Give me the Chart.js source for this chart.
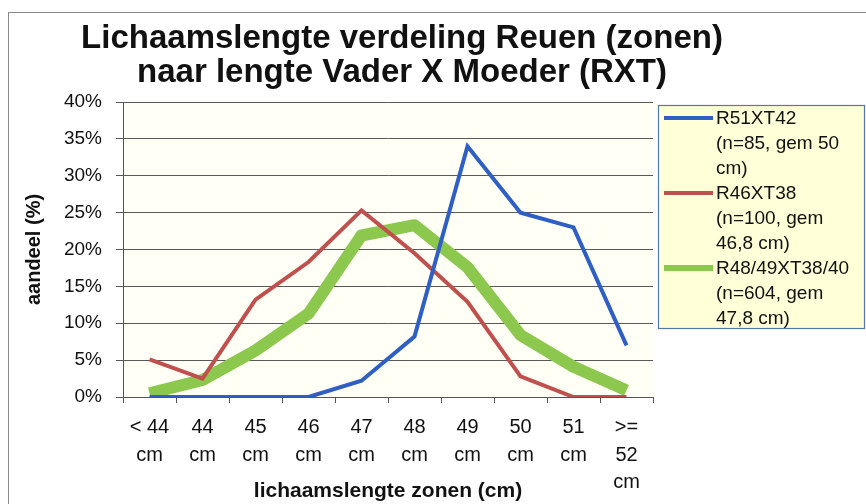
<!DOCTYPE html>
<html>
<head>
<meta charset="utf-8">
<script src="https://cdn.jsdelivr.net/npm/chart.js@4"></script>
<style>
  html, body { margin: 0; padding: 0; background: #fff; }
  #wrap { width: 866px; height: 504px; position: relative; }
</style>
</head>
<body>
<div id="wrap"><canvas id="chart"></canvas></div>
<script>
const titleLines = ['Lichaamslengte verdeling Reuen (zonen)', 'naar lengte Vader X Moeder (RXT)']
const categories = [
  ['< 44', 'cm'], ['44', 'cm'], ['45', 'cm'], ['46', 'cm'], ['47', 'cm'],
  ['48', 'cm'], ['49', 'cm'], ['50', 'cm'], ['51', 'cm'], ['>=', '52', 'cm']
]
const blueLabel = ['R51XT42', '(n=85, gem 50', 'cm)']
const redLabel = ['R46XT38', '(n=100, gem', '46,8 cm)']
const greenLabel = ['R48/49XT38/40', '(n=604, gem', '47,8 cm)']
const blueValues = [0, 0, 0, 0, 2.2, 8.2, 34, 25, 23, 7]
const redValues = [5.1, 2.5, 13.2, 18.3, 25.3, 19.5, 12.9, 2.8, 0, 0]
const greenValues = [0.5, 2.3, 6.3, 11.3, 21.9, 23.3, 17.6, 8.4, 4.1, 0.9]
const yTicks = [0, 5, 10, 15, 20, 25, 30, 35, 40]

const FONT = "'Liberation Sans', Arial, sans-serif"

// background, frame, title and the wrapped legend
const decor = {
  id: 'decor',
  beforeDraw(chart) {
    const { ctx, chartArea: a } = chart
    ctx.save()
    ctx.fillStyle = '#fffff6'
    ctx.fillRect(a.left, a.top, a.right - a.left, a.bottom - a.top)
    ctx.strokeStyle = '#8a8a8a'
    ctx.lineWidth = 1
    ctx.strokeRect(8.5, 12.5, 900, 600)
    ctx.restore()
  },
  afterDraw(chart) {
    const { ctx } = chart
    ctx.save()
    ctx.fillStyle = '#111'
    ctx.font = 'bold 33px ' + FONT
    ctx.textAlign = 'center'
    ctx.textBaseline = 'alphabetic'
    ctx.fillText(titleLines[0], 402, 48)
    ctx.fillText(titleLines[1], 402, 82)

    // legend box
    ctx.fillStyle = '#ffffd8'
    ctx.fillRect(658, 105, 206, 223)
    ctx.strokeStyle = '#5577aa'
    ctx.lineWidth = 1.2
    ctx.strokeRect(658.5, 105.5, 206, 223)
    ctx.font = '19px ' + FONT
    ctx.textAlign = 'left'
    ctx.textBaseline = 'middle'
    let y = 118
    chart.data.datasets.forEach(ds => {
      ctx.strokeStyle = ds.borderColor
      ctx.lineWidth = Math.min(ds.borderWidth, 6)
      ctx.beginPath()
      ctx.moveTo(664, y)
      ctx.lineTo(713, y)
      ctx.stroke()
      ctx.fillStyle = '#111'
      ds.label.forEach(line => {
        ctx.fillText(line, 716, y + 1)
        y += 25
      })
    })
    ctx.restore()
  }
}

new Chart(document.getElementById('chart'), {
  type: 'line',
  data: {
    labels: categories,
    datasets: [
      { label: blueLabel, data: blueValues, borderColor: '#2f5fc4', borderWidth: 4, pointRadius: 0, tension: 0 },
      { label: redLabel, data: redValues, borderColor: '#c0504d', borderWidth: 4, pointRadius: 0, tension: 0 },
      { label: greenLabel, data: greenValues, borderColor: '#8cc84e', borderWidth: 12, pointRadius: 0, tension: 0, borderJoinStyle: 'round' }
    ]
  },
  options: {
    responsive: true,
    maintainAspectRatio: false,
    animation: false,
    layout: { padding: { top: 102, right: 213, left: 0, bottom: 0 } },
    plugins: { legend: { display: false }, tooltip: { enabled: false } },
    scales: {
      x: {
        offset: true,
        afterFit(scale) { scale.height = 107 },
        grid: { offset: true, drawOnChartArea: false, tickLength: 6, color: '#555' },
        border: { color: '#555' },
        ticks: { color: '#111', maxRotation: 0, autoSkip: false, padding: 11, font: { family: FONT, size: 20, lineHeight: 1.375 } },
        title: { display: true, text: 'lichaamslengte zonen (cm)', color: '#111', padding: 0, font: { family: FONT, size: 21, weight: 'bold' } }
      },
      y: {
        min: 0,
        max: 40,
        afterFit(scale) { scale.width = 123 },
        afterBuildTicks(scale) { scale.ticks = yTicks.map(v => ({ value: v })) },
        grid: { color: 'rgba(60,60,60,0.85)', tickLength: 7 },
        border: { color: '#555' },
        ticks: { color: '#111', padding: 14, font: { family: FONT, size: 19 }, callback: v => v + '%' },
        title: { display: true, text: 'aandeel (%)', color: '#111', padding: { top: 22, bottom: 0 }, font: { family: FONT, size: 20, weight: 'bold' } }
      }
    }
  },
  plugins: [decor]
})
</script>
</body>
</html>
